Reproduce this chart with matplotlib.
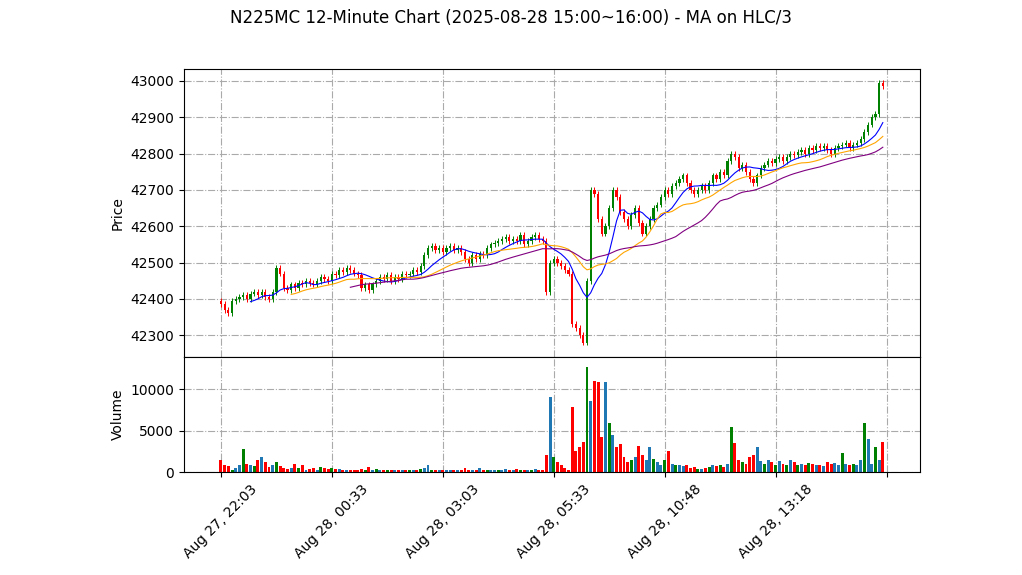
import numpy as np
import pandas as pd
import matplotlib
matplotlib.use("Agg")
import matplotlib.pyplot as plt

# close prices per 12-minute bar
closes = [
    42385, 42370, 42360, 42395, 42400, 42405, 42410, 42400, 42415, 42420,
    42410, 42420, 42405, 42400, 42420, 42485, 42470, 42430, 42425, 42440,
    42430, 42445, 42440, 42450, 42445, 42440, 42450, 42460, 42455, 42450,
    42470, 42465, 42480, 42475, 42485, 42480, 42470, 42465, 42430, 42440,
    42425, 42440, 42450, 42460, 42455, 42465, 42450, 42460, 42455, 42470,
    42465, 42470, 42480, 42475, 42490, 42520, 42540, 42545, 42535, 42540,
    42530, 42540, 42545, 42535, 42540, 42530, 42510, 42500, 42520, 42510,
    42525, 42520, 42540, 42550, 42555, 42560, 42565, 42570, 42560, 42565,
    42560, 42575, 42550, 42560, 42570, 42575, 42565, 42560, 42420, 42500,
    42510, 42500, 42490, 42480, 42470, 42330, 42320, 42300, 42280, 42450,
    42700, 42690, 42620, 42580, 42600, 42650, 42700, 42680, 42640, 42620,
    42600, 42630, 42650, 42610, 42580, 42600, 42620, 42650, 42660, 42680,
    42700, 42690, 42710, 42720, 42730, 42740, 42720, 42700, 42690, 42700,
    42710, 42700, 42720, 42740, 42730, 42750, 42740, 42780, 42800, 42790,
    42760, 42770, 42750, 42730, 42720, 42740, 42760, 42770, 42780, 42775,
    42785, 42790, 42780, 42790, 42800, 42795, 42805, 42810, 42800, 42815,
    42810, 42820, 42815, 42820, 42810, 42800, 42815, 42820, 42825, 42830,
    42815, 42825, 42830, 42840, 42860, 42880, 42900, 42910, 42995, 42985,
]
volumes = [
    1400, 800, 700, 300, 500, 900, 2800, 1000, 800, 700,
    1500, 1800, 1200, 600, 900, 1200, 700, 500, 400, 500,
    1000, 500, 900, 300, 400, 500, 300, 600, 500, 400,
    500, 400, 400, 300, 300, 250, 200, 300, 400, 300,
    600, 300, 400, 250, 300, 300, 200, 300, 200, 250,
    200, 300, 250, 300, 400, 500, 800, 300, 200, 250,
    300, 200, 250, 200, 300, 200, 500, 200, 300, 200,
    500, 300, 200, 200, 300, 250, 300, 400, 300, 200,
    400, 300, 300, 200, 300, 400, 300, 300, 2000, 9000,
    1800, 1200, 800, 500, 200, 7800, 2500, 3000, 3600, 12700,
    8500, 11000, 10800, 4200, 10800, 5900, 4500, 3000, 3400, 1800,
    1200, 1500, 1800, 3100, 2000, 1500, 3000, 1600, 1200, 800,
    1400, 2500, 1000, 900, 800, 700, 800, 500, 600, 400,
    400, 500, 600, 900, 700, 800, 600, 1000, 5400, 3500,
    1500, 1200, 1000, 1800, 2000, 3000, 1300, 1000, 1500, 1200,
    900, 1300, 1000, 800, 1400, 1200, 800, 1000, 900, 1100,
    1000, 900, 800, 700, 1200, 1000, 1100, 900, 2300, 1000,
    800, 1000, 900, 1500, 5900, 4000, 1000, 3000, 1500, 3600,
]
tick_labels = ["Aug 27, 22:03", "Aug 28, 00:33", "Aug 28, 03:03",
               "Aug 28, 05:33", "Aug 28, 10:48", "Aug 28, 13:18", ""]
ma_windows = [9, 20, 36]
ma_colors = ["blue", "orange", "purple"]

close = pd.Series(closes, dtype=float)
opn = close.shift(1).fillna(close.iloc[0] + 10)
high = np.maximum(opn, close) + 8
low = np.minimum(opn, close) - 8
x = np.arange(len(close))
up = close >= opn

fig = plt.figure(figsize=(10.22, 5.75), dpi=100)
ax = fig.add_axes([0.18, 0.379, 0.72, 0.501])
axv = fig.add_axes([0.18, 0.179, 0.72, 0.2], sharex=ax)

cols = np.where(up, "green", "red")
ax.vlines(x, low, high, colors=cols, linewidth=0.7)
ax.bar(x, (close - opn).abs().clip(lower=1), bottom=np.minimum(opn, close),
       width=0.6, color=cols)

hlc3 = (high + low + close) / 3
for w, c in zip(ma_windows, ma_colors):
    ax.plot(x, hlc3.rolling(w).mean(), color=c, linewidth=0.8)

vcols = [("green" if i % 3 == 0 else "#1f77b4") if u else "red" for i, u in enumerate(up)]
axv.bar(x, volumes, width=0.8, color=vcols)

ticks = [0, 30, 60, 90, 120, 150, 180]
axv.set_xticks(ticks)
axv.set_xticklabels(tick_labels, rotation=45)
plt.setp(ax.get_xticklabels(), visible=False)
ax.set_xlim(-10, 189)
ax.set_ylim(42240, 43033)
axv.set_ylim(0, 13850)
axv.set_yticks([0, 5000, 10000])
for a in (ax, axv):
    a.grid(True, linestyle="-.", color="#aaaaaa", linewidth=0.8)
    a.set_axisbelow(True)
ax.set_ylabel("Price")
axv.set_ylabel("Volume")
fig.suptitle("N225MC 12-Minute Chart (2025-08-28 15:00~16:00) - MA on HLC/3", fontsize=12, y=0.985)

fig.savefig("out.png")
